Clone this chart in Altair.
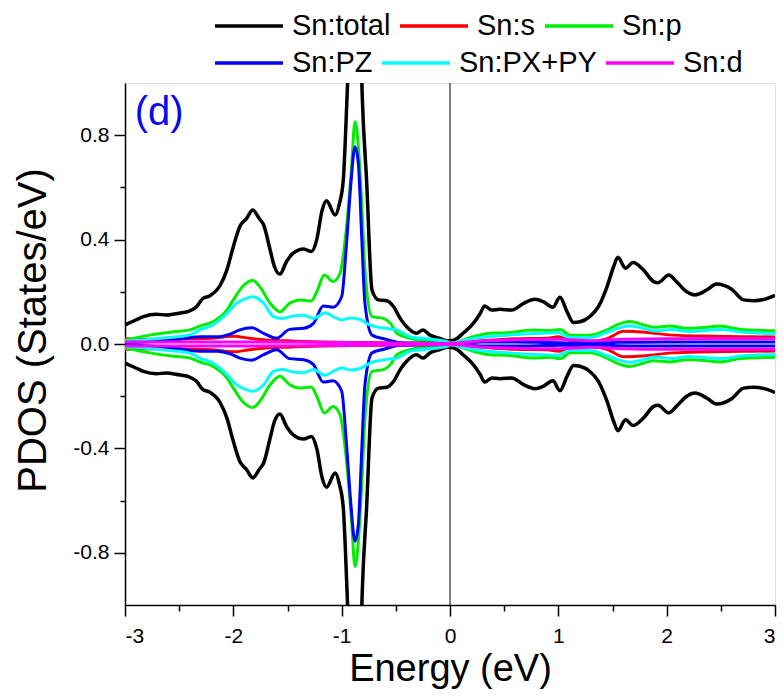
import altair as alt
import pandas as pd

# ---------------- data (spin-up values; spin-down is the mirror image) ----------------
series_row1 = ["Sn:total", "Sn:s", "Sn:p"]
colors_row1 = ["#000000", "#ff0000", "#00ee00"]
series_row2 = ["Sn:PZ", "Sn:PX+PY", "Sn:d"]
colors_row2 = ["#0000ff", "#00ffff", "#ff00ff"]

E_total = [-3.0, -2.9, -2.83, -2.71, -2.62, -2.5, -2.42, -2.34, -2.28, -2.22, -2.12, -2.06,
           -2.0, -1.94, -1.88, -1.82, -1.76, -1.72, -1.66, -1.62, -1.57, -1.51, -1.45, -1.35,
           -1.28, -1.23, -1.18, -1.14, -1.06, -1.02, -0.985, -0.95, -0.9, -0.87, -0.84, -0.81,
           -0.77, -0.72, -0.66, -0.585, -0.52, -0.46, -0.40, -0.31, -0.25, -0.185, -0.1, -0.03,
           0.0, 0.06, 0.12, 0.215, 0.28, 0.32, 0.385, 0.46, 0.57, 0.68, 0.785, 0.86, 0.95,
           1.015, 1.08, 1.14, 1.2, 1.29, 1.37, 1.45, 1.51, 1.55, 1.62, 1.69, 1.785, 1.88, 1.92,
           2.02, 2.09, 2.185, 2.26, 2.37, 2.46, 2.6, 2.71, 2.8, 2.91, 3.0]
V_total = [0.073, 0.092, 0.105, 0.114, 0.111, 0.118, 0.124, 0.143, 0.175, 0.184, 0.226, 0.283,
           0.373, 0.45, 0.48, 0.513, 0.48, 0.456, 0.36, 0.296, 0.268, 0.315, 0.347, 0.364,
           0.354, 0.40, 0.513, 0.549, 0.494, 0.539, 0.628, 0.95, 1.5, 1.6, 1.45, 0.95,
           0.628, 0.207, 0.169, 0.166, 0.143, 0.098, 0.066, 0.041, 0.054, 0.034, 0.022, 0.013,
           0.012, 0.02, 0.041, 0.079, 0.118, 0.146, 0.13, 0.133, 0.13, 0.156, 0.171, 0.162, 0.141,
           0.179, 0.124, 0.082, 0.085, 0.105, 0.143, 0.22, 0.296, 0.332, 0.29, 0.312, 0.284, 0.239, 0.235,
           0.264, 0.239, 0.2, 0.188, 0.207, 0.23, 0.21, 0.169, 0.166, 0.172, 0.186]

E_s = [-3.0, -2.7, -2.4, -2.2, -2.0, -1.85, -1.7, -1.5, -1.2, -0.9, -0.5, 0.0, 0.3, 0.6, 0.9,
       1.0, 1.1, 1.3, 1.45, 1.6, 1.8, 2.05, 2.4, 2.7, 3.0]
V_s = [0.02, 0.018, 0.02, 0.022, 0.03, 0.022, 0.015, 0.012, 0.008, 0.006, 0.004, 0.002, 0.012,
       0.02, 0.022, 0.028, 0.015, 0.01, 0.02, 0.049, 0.045, 0.034, 0.03, 0.028, 0.027]

E_p = [-3.0, -2.77, -2.55, -2.4, -2.31, -2.19, -2.06, -2.0, -1.91, -1.82, -1.76, -1.66, -1.57,
       -1.48, -1.385, -1.28, -1.23, -1.16, -1.08, -1.015, -0.955, -0.91, -0.877, -0.846, -0.815,
       -0.785, -0.72, -0.615, -0.55, -0.49, -0.37, -0.15, 0.0, 0.215, 0.37, 0.52, 0.77, 0.92,
       1.015, 1.11, 1.29, 1.45, 1.54, 1.66, 1.79, 1.88, 2.03, 2.19, 2.37, 2.49, 2.68, 3.0]
V_p = [0.015, 0.034, 0.047, 0.054, 0.069, 0.085, 0.13, 0.169, 0.222, 0.243, 0.222, 0.156, 0.124,
       0.156, 0.169, 0.165, 0.2, 0.264, 0.239, 0.271, 0.45, 0.667, 0.852, 0.756, 0.539,
       0.284, 0.105, 0.098, 0.079, 0.041, 0.022, 0.009, 0.003, 0.028, 0.041, 0.043, 0.054, 0.051,
       0.056, 0.034, 0.034, 0.054, 0.073, 0.086, 0.073, 0.064, 0.069, 0.06, 0.064, 0.069, 0.056, 0.051]

E_pz = [-3.0, -2.6, -2.31, -2.15, -2.03, -1.94, -1.83, -1.72, -1.6, -1.48, -1.35, -1.26, -1.17,
        -1.08, -1.0, -0.955, -0.917, -0.877, -0.846, -0.815, -0.785, -0.72, -0.61, -0.46, -0.2,
        0.0, 0.3, 0.6, 0.9, 1.2, 1.5, 2.0, 2.5, 3.0]
V_pz = [0.005, 0.012, 0.028, 0.028, 0.038, 0.054, 0.062, 0.041, 0.022, 0.056, 0.06, 0.079, 0.146,
        0.141, 0.181, 0.386, 0.603, 0.756, 0.692, 0.411, 0.156, 0.034, 0.02, 0.005, 0.003,
        0.002, 0.008, 0.008, 0.006, 0.004, 0.006, 0.008, 0.008, 0.008]

E_pxy = [-3.0, -2.6, -2.4, -2.31, -2.19, -2.06, -1.97, -1.88, -1.82, -1.72, -1.63, -1.55, -1.45,
         -1.35, -1.26, -1.15, -1.08, -1.0, -0.92, -0.83, -0.74, -0.6, -0.49, -0.37, -0.21, -0.03,
         0.0, 0.2, 0.5, 0.77, 1.0, 1.1, 1.3, 1.45, 1.54, 1.66, 1.8, 1.9, 2.05, 2.2, 2.5, 2.7, 3.0]
V_pxy = [0.01, 0.025, 0.035, 0.054, 0.073, 0.117, 0.156, 0.175, 0.181, 0.156, 0.105, 0.098, 0.107,
         0.11, 0.098, 0.12, 0.105, 0.092, 0.10, 0.094, 0.073, 0.06, 0.054, 0.028, 0.02, 0.01,
         0.003, 0.02, 0.033, 0.04, 0.043, 0.025, 0.025, 0.045, 0.058, 0.07, 0.058, 0.05, 0.056,
         0.048, 0.056, 0.045, 0.04]

E_d = [-3.0, -2.0, -1.0, 0.0, 0.3, 0.6, 1.0, 1.3, 1.6, 2.0, 2.5, 3.0]
V_d = [0.008, 0.008, 0.006, 0.002, 0.012, 0.016, 0.018, 0.012, 0.018, 0.02, 0.02, 0.02]

x_ticks = [-3, -2.5, -2, -1.5, -1, -0.5, 0, 0.5, 1, 1.5, 2, 2.5, 3]
y_ticks = [-0.8, -0.6, -0.4, -0.2, 0.0, 0.2, 0.4, 0.6, 0.8]
fermi = [0.0]
panel_label = ["(d)"]
panel_label_x = [-2.91]
panel_label_y = [0.84]

# ---------------- build table ----------------
series_names = series_row1 + series_row2
rows = []
for name, E, V in zip(series_names,
                      [E_total, E_s, E_p, E_pz, E_pxy, E_d],
                      [V_total, V_s, V_p, V_pz, V_pxy, V_d]):
    for e, v in zip(E, V):
        rows.append({"series": name, "spin": "up", "energy": e, "pdos": v})
        rows.append({"series": name, "spin": "down", "energy": e, "pdos": -v})
df = pd.DataFrame(rows)

FONT = "Liberation Sans"

xscale = alt.Scale(domain=[-3, 3], nice=False, zero=False)
yscale = alt.Scale(domain=[-1, 1], nice=False)


def legend_for(y):
    return alt.Legend(
        title=None, orient="none", legendX=88, legendY=y, direction="horizontal",
        symbolType="stroke", symbolSize=4624, symbolStrokeWidth=3.5,
        labelFont=FONT, labelFontSize=29, labelColor="black", labelOffset=7,
        columnPadding=2, padding=0, labelLimit=400,
    )


xaxis = alt.Axis(
    values=x_ticks, title="Energy (eV)",
    labelExpr="datum.value % 1 == 0 ? replace(format(datum.value, 'd'), '\u2212', '-') : ''",
    tickSize={"expr": "datum.value % 1 == 0 ? 11 : 6"},
    labelPadding=9, labelFontSize=21, labelFont=FONT, labelColor="black",
    titleFont=FONT, titleFontSize=38, titleFontWeight="normal", titleColor="black",
    titleX=325, titleY=75, titleBaseline="alphabetic", titleAnchor="middle",
    domainColor="black", domainWidth=1.5, tickColor="black", tickWidth=1.5, grid=False,
)
yaxis = alt.Axis(
    values=y_ticks, title="PDOS (States/eV)",
    labelExpr="abs(round(datum.value*10)) % 4 == 0 ? replace(format(datum.value, '.1f'), '\u2212', '-') : ''",
    tickSize={"expr": "abs(round(datum.value*10)) % 4 == 0 ? 11 : 5"},
    labelPadding=5, labelFontSize=21, labelFont=FONT, labelColor="black",
    titleFont=FONT, titleFontSize=40, titleFontWeight="normal", titleColor="black",
    titleX=-80, titleY=247, titleBaseline="alphabetic", titleAngle=-90, titleAnchor="middle",
    domainColor="black", domainWidth=1.5, tickColor="black", tickWidth=1.5, grid=False,
)

base = alt.Chart(df)


def series_layer(name, color_enc):
    return (
        base.transform_filter(alt.datum.series == name)
        .mark_line(clip=True, strokeWidth=3.5 if name == "Sn:total" else 3, interpolate="monotone")
        .encode(
            x=alt.X("energy:Q", scale=xscale, axis=xaxis),
            y=alt.Y("pdos:Q", scale=yscale, axis=yaxis),
            color=color_enc,
            detail="spin:N",
        )
    )


color1 = alt.Color("series:N", scale=alt.Scale(domain=series_row1, range=colors_row1),
                   legend=legend_for(-93))
color2 = alt.Color("series:N", scale=alt.Scale(domain=series_row2, range=colors_row2),
                   legend=legend_for(-56))

group1 = alt.layer(*[series_layer(n, color1) for n in series_row1])
group2 = alt.layer(*[series_layer(n, color2) for n in series_row2])

rule = alt.Chart(pd.DataFrame({"energy": fermi})).mark_rule(
    color="black", strokeWidth=1
).encode(x=alt.X("energy:Q", scale=xscale, axis=xaxis))

label = alt.Chart(pd.DataFrame({"t": panel_label, "x": panel_label_x, "y": panel_label_y})).mark_text(
    align="left", baseline="alphabetic", font=FONT, fontSize=40, color="#0a0aee"
).encode(x=alt.X("x:Q", scale=xscale), y=alt.Y("y:Q", scale=yscale), text="t:N")

chart = alt.layer(rule, group1, group2, label).resolve_scale(color="independent").properties(
    width=650, height=522,
    autosize=alt.AutoSizeParams(type="none"),
    padding={"left": 125, "top": 83, "right": 9, "bottom": 91},
).configure_view(stroke="black", strokeWidth=1.5).configure(background="white")

chart.save("out.html", embed_options={"renderer": "svg", "actions": False})
